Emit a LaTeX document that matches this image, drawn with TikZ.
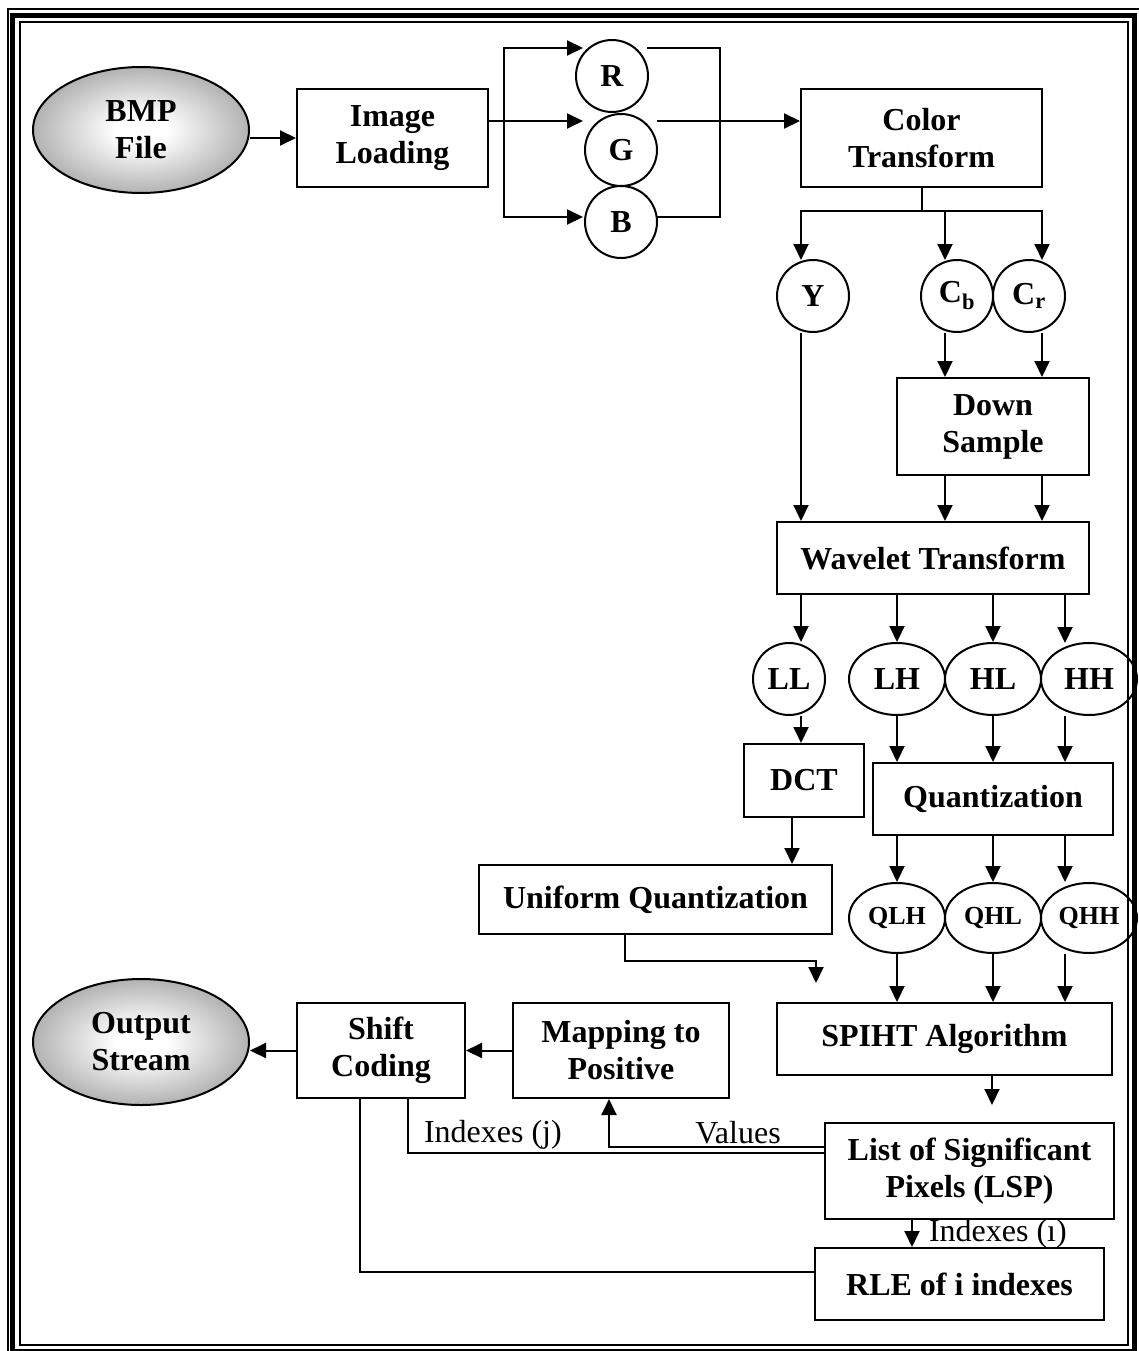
\documentclass[tikz,border=0pt]{standalone}
\usepackage{fontspec}
\setmainfont{Liberation Serif}
\usetikzlibrary{shapes.geometric,arrows.meta}
\pgfdeclareradialshading{glow}{\pgfpoint{0bp}{0bp}}{color(0bp)=(white); color(6bp)=(white); color(30bp)=(black!38); color(50bp)=(black!60)}
\begin{document}
\begin{tikzpicture}[x=1pt,y=-1pt,line width=2pt,%
  every node/.style={font=\bfseries\fontsize{32}{37}\selectfont,inner sep=0pt,align=center},%
  box/.style={draw,rectangle},%
  ring/.style={draw,circle,minimum size=72pt},%
  band/.style={draw,ellipse,minimum width=96pt,minimum height=72pt},%
  qband/.style={band,minimum height=70pt,font=\bfseries\fontsize{26}{30}\selectfont},%
  term/.style={draw,ellipse,minimum width=216pt,minimum height=126pt,shading=glow},%
  arr/.style={-{Triangle[length=16pt,width=15pt]}},%
  note/.style={font=\fontsize{32}{37}\selectfont}]%
\useasboundingbox (0,0) rectangle (1139,1351);%
% frame
\draw[line width=2pt] (7.5,9) rectangle (1141,1358);%
\draw[line width=5pt] (12.5,15.5) rectangle (1134.5,1351.5);%
\draw[line width=2pt] (20,22) rectangle (1128,1345);%
%
% input side
\node[term] (bmp) at (141,130) {BMP\\File};%
\node[box,minimum width=191pt,minimum height=98pt] (load) at (392.5,138) {Image\\Loading};%
\node[ring] (R) at (612,76) {R};%
\node[ring] (G) at (621,150) {G};%
\node[ring] (B) at (621,222) {B};%
\node[box,minimum width=241pt,minimum height=98pt] (ct) at (921.5,138) {Color\\Transform};%
%
\draw[arr] (bmp.east |- load.west) -- (load.west);%
\coordinate (rin) at (583,48);%
\coordinate (gin) at (583,121);%
\coordinate (bin) at (583,217);%
\coordinate (split) at (504,121);%
\draw[arr] (load.east |- gin) -- (gin);%
\draw[arr] (split) |- (rin);%
\draw[arr] (split) |- (bin);%
\coordinate (rout) at (647,48);%
\coordinate (gout) at (657,121);%
\coordinate (bout) at (657,217);%
\draw (rout) -| (720,121) |- (bout);%
\draw[arr] (gout) -- (ct.west |- gout);%
%
% colour planes
\node[ring] (Y) at (813,296) {Y};%
\node[ring] (Cb) at (957,296) {C\textsubscript{b}};%
\node[ring] (Cr) at (1029,296) {C\textsubscript{r}};%
\node[box,minimum width=192pt,minimum height=97pt] (ds) at (993,426.5) {Down\\Sample};%
\node[box,minimum width=312pt,minimum height=72pt] (wt) at (933,558) {Wavelet Transform};%
%
\coordinate (yin) at (801,260);%
\coordinate (cbin) at (945,260);%
\coordinate (crin) at (1042,260);%
\draw (ct.south) -- ++(0,23) coordinate (ctb);%
\draw[arr] (ctb) -| (yin);%
\draw[arr] (ctb) -| (crin);%
\draw[arr] (cbin |- ctb) -- (cbin);%
\draw[arr] (cbin |- Cb.south) -- (cbin |- ds.north);%
\draw[arr] (crin |- Cr.south) -- (crin |- ds.north);%
\draw[arr] (yin |- Y.south) -- (yin |- wt.north);%
\draw[arr] (cbin |- ds.south) -- (cbin |- wt.north);%
\draw[arr] (crin |- ds.south) -- (crin |- wt.north);%
%
% sub-bands
\node[ring] (LL) at (789,679) {LL};%
\node[band] (LH) at (897,679) {LH};%
\node[band] (HL) at (993,679) {HL};%
\node[band] (HH) at (1089,679) {HH};%
\node[box,minimum width=120pt,minimum height=73pt] (dct) at (804,780.5) {DCT};%
\node[box,minimum width=240pt,minimum height=72pt] (qz) at (993,799) {Quantization};%
\node[qband] (QLH) at (897,918) {QLH};%
\node[qband] (QHL) at (993,918) {QHL};%
\node[qband] (QHH) at (1089,918) {QHH};%
\node[box,minimum width=353pt,minimum height=69pt] (uq) at (655.5,899.5) {Uniform Quantization};%
%
\coordinate (hhin) at (1065,643);%
\draw[arr] (yin |- wt.south) -- (yin |- LH.north);%
\draw[arr] (LH.north |- wt.south) -- (LH.north);%
\draw[arr] (HL.north |- wt.south) -- (HL.north);%
\draw[arr] (hhin |- wt.south) -- (hhin);%
\draw[arr] (yin |- LL.south) -- (yin |- dct.north);%
\draw[arr] (LH.south) -- (LH.south |- qz.north);%
\draw[arr] (HL.south) -- (HL.south |- qz.north);%
\draw[arr] (hhin |- HH.south) -- (hhin |- qz.north);%
\draw[arr] (LH.south |- qz.south) -- (QLH.north);%
\draw[arr] (HL.south |- qz.south) -- (QHL.north);%
\draw[arr] (hhin |- qz.south) -- (hhin |- QHH.north);%
\draw[arr] ([xshift=-12pt]dct.south) -- ([xshift=-12pt]dct.south |- uq.north);%
%
% coding
\node[box,minimum width=335pt,minimum height=72pt] (sp) at (944.5,1039) {SPIHT Algorithm};%
\node[box,minimum width=289pt,minimum height=96pt] (lsp) at (969.5,1171) {List of Significant\\Pixels (LSP)};%
\node[box,minimum width=289pt,minimum height=72pt] (rle) at (959.5,1284) {RLE of i indexes};%
\node[box,minimum width=216pt,minimum height=95pt] (map) at (621,1050.5) {Mapping to\\Positive};%
\node[box,minimum width=168pt,minimum height=95pt] (shift) at (381,1050.5) {Shift\\Coding};%
\node[term] (out) at (141,1042) {Output\\Stream};%
%
\coordinate (uqj) at (816,961);%
\coordinate (spin) at (816,983);%
\coordinate (lspin) at (992,1105);%
\draw[arr] ([xshift=-31pt]uq.south) |- (uqj) -- (spin);%
\draw[arr] (QLH.south) -- (QLH.south |- sp.north);%
\draw[arr] (QHL.south) -- (QHL.south |- sp.north);%
\draw[arr] (hhin |- QHH.south) -- (hhin |- sp.north);%
\draw[arr] (lspin |- sp.south) -- (lspin);%
\draw[arr] ([xshift=-57.5pt]lsp.south) -- ([xshift=-57.5pt]lsp.south |- rle.north)%
  node[note,pos=0.5,right,xshift=16pt] {Indexes (ı)};%
\draw[arr] ([yshift=24pt]lsp.west) -| ([xshift=-12pt]map.south)%
  node[note,pos=0.2,above,yshift=2pt] {Values};%
\draw ([xshift=27pt]shift.south) |- ([yshift=18pt]lsp.west)%
  node[note,pos=0.5,above right,xshift=15pt,yshift=3pt] {Indexes (j)};%
\draw ([xshift=-21pt]shift.south) |- ([yshift=12pt]rle.west);%
\draw[arr] (map.west) -- (shift.east);%
\draw[arr] (shift.west) -- (out.east |- shift.west);%
\end{tikzpicture}
\end{document}
